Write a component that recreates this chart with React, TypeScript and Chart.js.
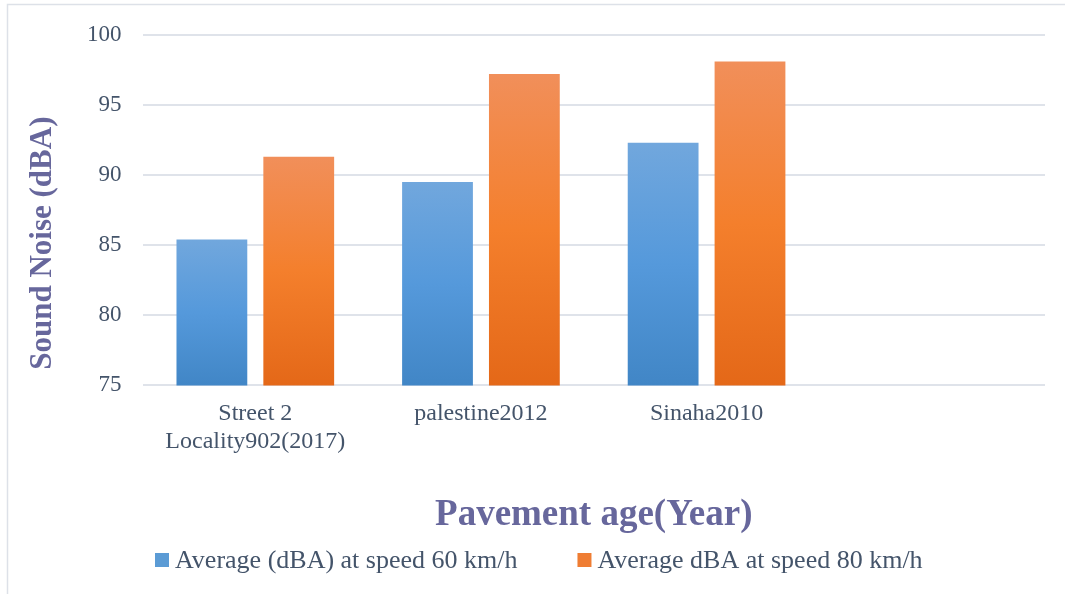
import React, { useEffect, useRef } from "react";
import { Chart, registerables } from "chart.js";

Chart.register(...registerables);

const categories: (string | string[])[] = [
  ["Street 2", "Locality902(2017)"],
  "palestine2012",
  "Sinaha2010",
  "",
];
const series60: (number | null)[] = [85.4, 89.5, 92.3, null];
const series80: (number | null)[] = [91.3, 97.2, 98.1, null];
const seriesNames = ["Average (dBA) at speed 60 km/h", "Average dBA at speed 80 km/h"];
const legendColors = ["#5b9bd5", "#ef7d33"];
const yTicks = [75, 80, 85, 90, 95, 100];
const yTitle = "Sound Noise (dBA)";
const xTitle = "Pavement age(Year)";

const FONT = "'Liberation Serif', 'Times New Roman', serif";
const TEXT = "#44546a";
const TITLE = "#67679c";

function barGradient(stops: string[]) {
  return (ctx: any) => {
    const chart = ctx.chart;
    const area = chart.chartArea;
    if (!area || ctx.type !== "data") return stops[1];
    const y = chart.scales.y;
    const v = ctx.raw;
    if (v == null) return stops[1];
    const top = y.getPixelForValue(v);
    const bottom = y.getPixelForValue(y.min);
    if (!isFinite(top) || !isFinite(bottom) || bottom - top < 1) return stops[1];
    const g = chart.ctx.createLinearGradient(0, top, 0, bottom);
    g.addColorStop(0, stops[0]);
    g.addColorStop(0.5, stops[1]);
    g.addColorStop(1, stops[2]);
    return g;
  };
}

const framePlugin = {
  id: "frame",
  beforeDraw(chart: any) {
    const c = chart.ctx;
    c.save();
    c.strokeStyle = "#dde1e8";
    c.lineWidth = 1.5;
    c.beginPath();
    c.moveTo(7.5, chart.height + 10);
    c.lineTo(7.5, 4.5);
    c.lineTo(chart.width + 10, 4.5);
    c.stroke();
    c.restore();
  },
  afterDraw(chart: any) {
    const c = chart.ctx;
    const area = chart.chartArea;
    // Y axis title
    c.save();
    c.translate(43, (area.top + area.bottom) / 2 + 33);
    c.rotate(-Math.PI / 2);
    c.font = `bold 31px ${FONT}`;
    c.fillStyle = TITLE;
    c.textAlign = "center";
    c.textBaseline = "middle";
    c.fillText(yTitle, 0, 0);
    c.restore();
    // Legend
    c.save();
    c.font = `26px ${FONT}`;
    c.textBaseline = "middle";
    c.textAlign = "left";
    let x = 155;
    const y = 560;
    chart.data.datasets.forEach((ds: any, i: number) => {
      c.fillStyle = legendColors[i];
      c.fillRect(x, y - 7, 14, 14);
      x += 20;
      c.fillStyle = TEXT;
      c.fillText(ds.label, x, y + 1);
      x += c.measureText(ds.label).width + 60;
    });
    c.restore();
  },
};

export default function App() {
  const ref = useRef<HTMLCanvasElement | null>(null);
  useEffect(() => {
    if (!ref.current) return;
    const chart = new Chart(ref.current, {
      type: "bar",
      data: {
        labels: categories,
        datasets: [
          {
            label: seriesNames[0],
            data: series60,
            backgroundColor: barGradient(["#71a7dd", "#5599db", "#4186c6"]),
            borderWidth: 0,
          },
          {
            label: seriesNames[1],
            data: series80,
            backgroundColor: barGradient(["#f18f5a", "#f47f2c", "#e46818"]),
            borderWidth: 0,
          },
        ],
      },
      options: {
        animation: false,
        responsive: false,
        maintainAspectRatio: false,
        categoryPercentage: 0.77,
        barPercentage: 0.815,
        layout: { padding: { left: 66, right: 20, top: 22, bottom: 56 } },
        plugins: {
          tooltip: { enabled: false },
          legend: { display: false },
        },
        scales: {
          x: {
            grid: { display: false, drawTicks: false },
            border: { display: false },
            ticks: {
              font: { family: FONT, size: 24, lineHeight: 1.17 },
              color: TEXT,
              padding: 14,
              maxRotation: 0,
              autoSkip: false,
            },
            title: {
              display: true,
              text: xTitle,
              font: { family: FONT, size: 37, weight: "bold", lineHeight: 1.2 },
              color: TITLE,
              padding: { top: 24, bottom: 0 },
            },
          },
          y: {
            min: 75,
            max: 100,
            afterBuildTicks: (axis: any) => {
              axis.ticks = yTicks.map((v) => ({ value: v }));
            },
            grid: { color: "#dfe3ea", lineWidth: 2, drawTicks: false },
            border: { display: false },
            ticks: {
              font: { family: FONT, size: 23 },
              color: TEXT,
              padding: 21,
            },
          },
        },
      },
      plugins: [framePlugin],
    });
    return () => chart.destroy();
  }, []);
  return (
    <div style={{ position: "fixed", left: 0, top: 0, width: 1065, height: 594, background: "#fff" }}>
      <canvas ref={ref} width={1065} height={594} style={{ display: "block" }} />
    </div>
  );
}
